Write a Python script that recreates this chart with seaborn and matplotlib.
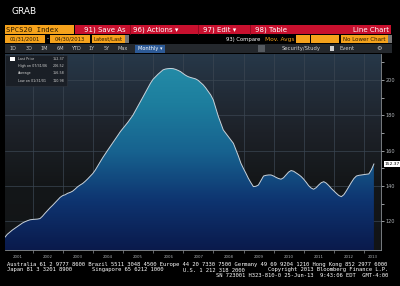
import numpy as np
import pandas as pd
import matplotlib
matplotlib.use("Agg")
import matplotlib.pyplot as plt
import matplotlib.dates as mdates
from matplotlib.colors import LinearSegmentedColormap
from matplotlib.patches import Rectangle
import seaborn as sns

# ---------------- data (monthly, Jan 2001 .. Apr 2013) ----------------
v2001 = [111.0, 112.6, 113.8, 115.0, 116.0, 117.0, 118.0, 119.0, 119.7, 120.3, 120.8, 121.0]
v2002 = [121.1, 121.2, 121.5, 122.8, 124.5, 126.0, 127.6, 129.0, 130.5, 132.0, 133.5, 134.5]
v2003 = [135.0, 135.8, 136.3, 137.0, 138.2, 139.5, 140.5, 141.4, 142.6, 144.0, 145.5, 147.0]
v2004 = [149.0, 151.3, 153.7, 156.0, 158.2, 160.3, 162.4, 164.5, 166.6, 168.7, 170.8, 172.6]
v2005 = [174.3, 176.0, 178.0, 180.0, 182.6, 185.2, 187.8, 190.4, 193.0, 195.6, 198.2, 200.4]
v2006 = [201.9, 203.2, 204.5, 205.7, 206.2, 206.4, 206.5, 206.4, 206.0, 205.4, 204.7, 203.6]
v2007 = [202.6, 201.9, 201.4, 201.0, 200.6, 199.8, 198.5, 197.2, 195.5, 193.5, 191.5, 188.7]
v2008 = [184.0, 179.5, 175.5, 171.7, 169.8, 167.9, 166.0, 164.1, 160.5, 156.8, 152.8, 149.8]
v2009 = [147.0, 144.3, 141.8, 139.6, 139.8, 140.5, 143.0, 145.6, 146.0, 146.2, 146.2, 145.6]
v2010 = [144.8, 144.2, 143.8, 144.6, 146.2, 147.8, 148.7, 148.3, 147.4, 146.4, 145.3, 143.8]
v2011 = [142.0, 140.2, 138.8, 138.1, 139.0, 140.5, 141.8, 142.4, 141.6, 140.2, 138.6, 137.2]
v2012 = [135.8, 134.6, 133.9, 135.0, 137.2, 139.6, 142.0, 144.2, 145.6, 146.0, 146.2, 146.4]
v2013 = [146.6, 146.8, 149.2, 152.4]
values = (v2001 + v2002 + v2003 + v2004 + v2005 + v2006 + v2007 + v2008 +
          v2009 + v2010 + v2011 + v2012 + v2013)
dates = pd.date_range("2001-01-31", periods=len(values), freq="ME")

year_labels = [str(y) for y in range(2001, 2014)]
y_ticks = [120, 140, 160, 180, 200]
legend_rows = [("Last Price", "152.37"), ("High on 07/31/06", "206.52"),
               ("Average", "156.58"), ("Low on 01/31/01", "110.98")]
last_label = "152.37"

df = pd.DataFrame({"date": dates, "value": values})

# ---------------- figure ----------------
W, H = 400, 286
fig = plt.figure(figsize=(4.0, 2.86), dpi=100, facecolor="black")

ui = fig.add_axes([0, 0, 1, 1], zorder=0)
ui.set_xlim(0, W)
ui.set_ylim(H, 0)
ui.axis("off")
ui.set_facecolor("black")

def box(x0, y0, x1, y1, color, z=1):
    ui.add_patch(Rectangle((x0, y0), x1 - x0, y1 - y0, facecolor=color,
                           edgecolor="none", zorder=z))

ORANGE = "#f5a21c"
RED = "#c8102e"

ui.text(12, 12, "GRAB", color="white", fontsize=6.5, va="center", ha="left")

# row 1
box(5, 25, 74, 34, ORANGE)
ui.text(6, 29.7, "SPCS20 Index", color="#2a1a00", fontsize=5.2, va="center",
        family="DejaVu Sans Mono")
box(75, 25, 391, 34, RED)
for xs in [130, 198, 250]:
    ui.plot([xs, xs], [25, 34], color="#8a0a1e", lw=0.6, zorder=2)
for x, t in [(84, "91) Save As"), (133, "96) Actions ▾"), (203, "97) Edit ▾"), (255, "98) Table")]:
    ui.text(x, 29.7, t, color="white", fontsize=5.0, va="center", ha="left", zorder=3)
ui.text(389, 29.7, "Line Chart", color="white", fontsize=5.0, va="center", ha="right", zorder=3)

# row 2
box(5, 35, 45, 43, ORANGE)
ui.text(25, 39.2, "01/31/2001", color="#2a1a00", fontsize=3.8, va="center", ha="center")
ui.text(47.5, 39, "-", color="white", fontsize=4, va="center", ha="center")
box(50, 35, 90, 43, ORANGE)
ui.text(70, 39.2, "04/30/2013", color="#2a1a00", fontsize=3.8, va="center", ha="center")
box(92, 35, 125, 43, ORANGE)
ui.text(108.5, 39.2, "Latest/Last", color="#2a1a00", fontsize=3.8, va="center", ha="center")
box(125, 35, 129, 43, "#777777")
ui.text(226, 39.2, "93) Compare", color="white", fontsize=3.8, va="center", ha="left")
ui.text(265, 39.2, "Mov. Avgs", color=ORANGE, fontsize=4.2, va="center", ha="left")
for x0 in [296, 311, 325]:
    box(x0, 35, x0 + 13.5, 43, ORANGE)
box(341, 35, 388, 43, ORANGE)
ui.text(343, 39.2, "No Lower Chart", color="#2a1a00", fontsize=4.0, va="center", ha="left")
box(388, 35, 392, 43, "#777777")

# row 3 toolbar
box(5, 44, 392, 53, "#24282d")
for x, t in [(13, "1D"), (29, "3D"), (44, "1M"), (60, "6M"), (76, "YTD"),
             (92, "1Y"), (107, "5Y"), (123, "Max")]:
    ui.text(x, 48.7, t, color="#c8c8c8", fontsize=3.6, va="center", ha="center")
box(135, 44.5, 165, 52.5, "#2d5a96", z=2)
ui.text(150, 48.7, "Monthly ▾", color="white", fontsize=3.6, va="center", ha="center", zorder=3)
box(258, 45, 265, 52, "#555a60", z=2)
ui.text(282, 48.7, "Security/Study", color="#d0d0d0", fontsize=3.8, va="center", ha="left")
ui.text(340, 48.7, "Event", color="#d0d0d0", fontsize=3.8, va="center", ha="left")
box(330, 46, 334, 51, "#d0d0d0", z=2)
ui.text(379, 48.7, "⚙", color="#d0d0d0", fontsize=4.5, va="center", ha="center")

# footer
mono = "DejaVu Sans Mono"
ui.text(7, 264.5, "Australia 61 2 9777 8600 Brazil 5511 3048 4500 Europe 44 20 7330 7500 "
        "Germany 49 69 9204 1210 Hong Kong 852 2977 6000", color="white",
        fontsize=4.0, family=mono, va="center", ha="left")
ui.text(7, 270, "Japan 81 3 3201 8900", color="white", fontsize=4.0, family=mono,
        va="center", ha="left")
ui.text(92, 270, "Singapore 65 6212 1000", color="white", fontsize=4.0, family=mono,
        va="center", ha="left")
ui.text(183, 270, "U.S. 1 212 318 2000", color="white", fontsize=4.0, family=mono,
        va="center", ha="left")
ui.text(388, 270, "Copyright 2013 Bloomberg Finance L.P.", color="white", fontsize=4.0,
        family=mono, va="center", ha="right")
ui.text(388, 275.5, "SN 723001 H323-810-0 25-Jun-13  9:43:06 EDT  GMT-4:00", color="white",
        fontsize=4.0, family=mono, va="center", ha="right")

# ---------------- chart axes ----------------
x0p, x1p, y0p, y1p = 5, 381, 54, 250
ax = fig.add_axes([x0p / W, 1 - y1p / H, (x1p - x0p) / W, (y1p - y0p) / H], zorder=1)

xmin = mdates.date2num(pd.Timestamp("2001-01-31"))
xmax = xmin + 4558
ymin, ymax = 103.7, 214.7
ax.set_xlim(xmin, xmax)
ax.set_ylim(ymin, ymax)

# background gradient
bg_cmap = LinearSegmentedColormap.from_list(
    "bg", [(0.0, "#121416"), (0.35, "#141719"), (0.6, "#1d2128"), (0.8, "#222c38"), (1.0, "#273849")])
grad = np.linspace(0, 1, 256).reshape(-1, 1)
ax.imshow(grad, extent=[xmin, xmax, ymin, ymax], origin="lower", aspect="auto",
          cmap=bg_cmap, zorder=0)

# gridlines
for yr in range(2002, 2014):
    ax.axvline(mdates.date2num(pd.Timestamp(f"{yr}-01-01")), color="#3b4652", lw=0.5, zorder=1)
for yt in y_ticks:
    ax.axhline(yt, color="#3b4652", lw=0.5, zorder=1)

# filled area with gradient
fill_cmap = LinearSegmentedColormap.from_list(
    "fill", [(0.0, "#0a1a4c"), (0.25, "#0e3470"), (0.5, "#17628f"), (0.75, "#1d7e9e"), (1.0, "#2690aa")])
poly = ax.fill_between(mdates.date2num(dates), values, ymin, color="none", zorder=2)
im = ax.imshow(grad, extent=[xmin, xmax, ymin, ymax], origin="lower", aspect="auto",
               cmap=fill_cmap, zorder=2)
im.set_clip_path(poly.get_paths()[0], transform=ax.transData)

sns.lineplot(data=df, x="date", y="value", ax=ax, color="#c9d2da", lw=0.7, zorder=3)

ax.set_xlim(xmin, xmax)
ax.set_ylim(ymin, ymax)
ax.set_xlabel("")
ax.set_ylabel("")
ax.set_facecolor("none")
for s in ["top", "left"]:
    ax.spines[s].set_visible(False)
ax.spines["right"].set_color("#8a8f94")
ax.spines["bottom"].set_color("#8a8f94")
ax.spines["right"].set_linewidth(0.6)
ax.spines["bottom"].set_linewidth(0.6)

ax.yaxis.tick_right()
ax.set_yticks(y_ticks)
ax.set_yticklabels([str(v) for v in y_ticks])
ax.set_yticks([130, 150, 170, 190, 210], minor=True)
ax.tick_params(axis="y", which="both", colors="#b0b4b8", labelsize=3.6, length=1.8,
               width=0.6, pad=1.5, direction="out")

ax.set_xticks([mdates.date2num(pd.Timestamp(f"{yr}-01-01")) for yr in range(2002, 2014)])
ax.set_xticklabels([])
ax.tick_params(axis="x", colors="#8a8f94", length=2, width=0.5)
for i, lab in enumerate(year_labels):
    yr = 2001 + i
    a = mdates.date2num(pd.Timestamp(f"{yr}-01-01"))
    b = min(mdates.date2num(pd.Timestamp(f"{yr + 1}-01-01")), xmax)
    ax.text((a + b) / 2, ymin - 2.6, lab, color="#b0b4b8", fontsize=2.8,
            ha="center", va="top", clip_on=False)

# legend box
ax.add_patch(Rectangle((0.0, 0.835), 0.165, 0.16, transform=ax.transAxes,
                       facecolor="#1a1f26", edgecolor="#30363e", lw=0.4, zorder=4))
for i, (name, val) in enumerate(legend_rows):
    yy = 0.975 - i * 0.037
    ax.text(0.035, yy, name, transform=ax.transAxes, color="#d0d0d0", fontsize=2.4,
            va="center", ha="left", zorder=5)
    ax.text(0.158, yy, val, transform=ax.transAxes, color="#d0d0d0", fontsize=2.4,
            va="center", ha="right", zorder=5)
ax.add_patch(Rectangle((0.012, 0.966), 0.014, 0.02, transform=ax.transAxes,
                       facecolor="white", edgecolor="none", zorder=5))

# last-price tag
ax.annotate(last_label, xy=(1.0, values[-1]), xycoords=("axes fraction", "data"),
            xytext=(2.5, 0), textcoords="offset points", color="black", fontsize=3.2,
            va="center", ha="left", annotation_clip=False,
            bbox=dict(boxstyle="square,pad=0.2", facecolor="white", edgecolor="none"))

fig.savefig("out.png", dpi=100, facecolor="black")
